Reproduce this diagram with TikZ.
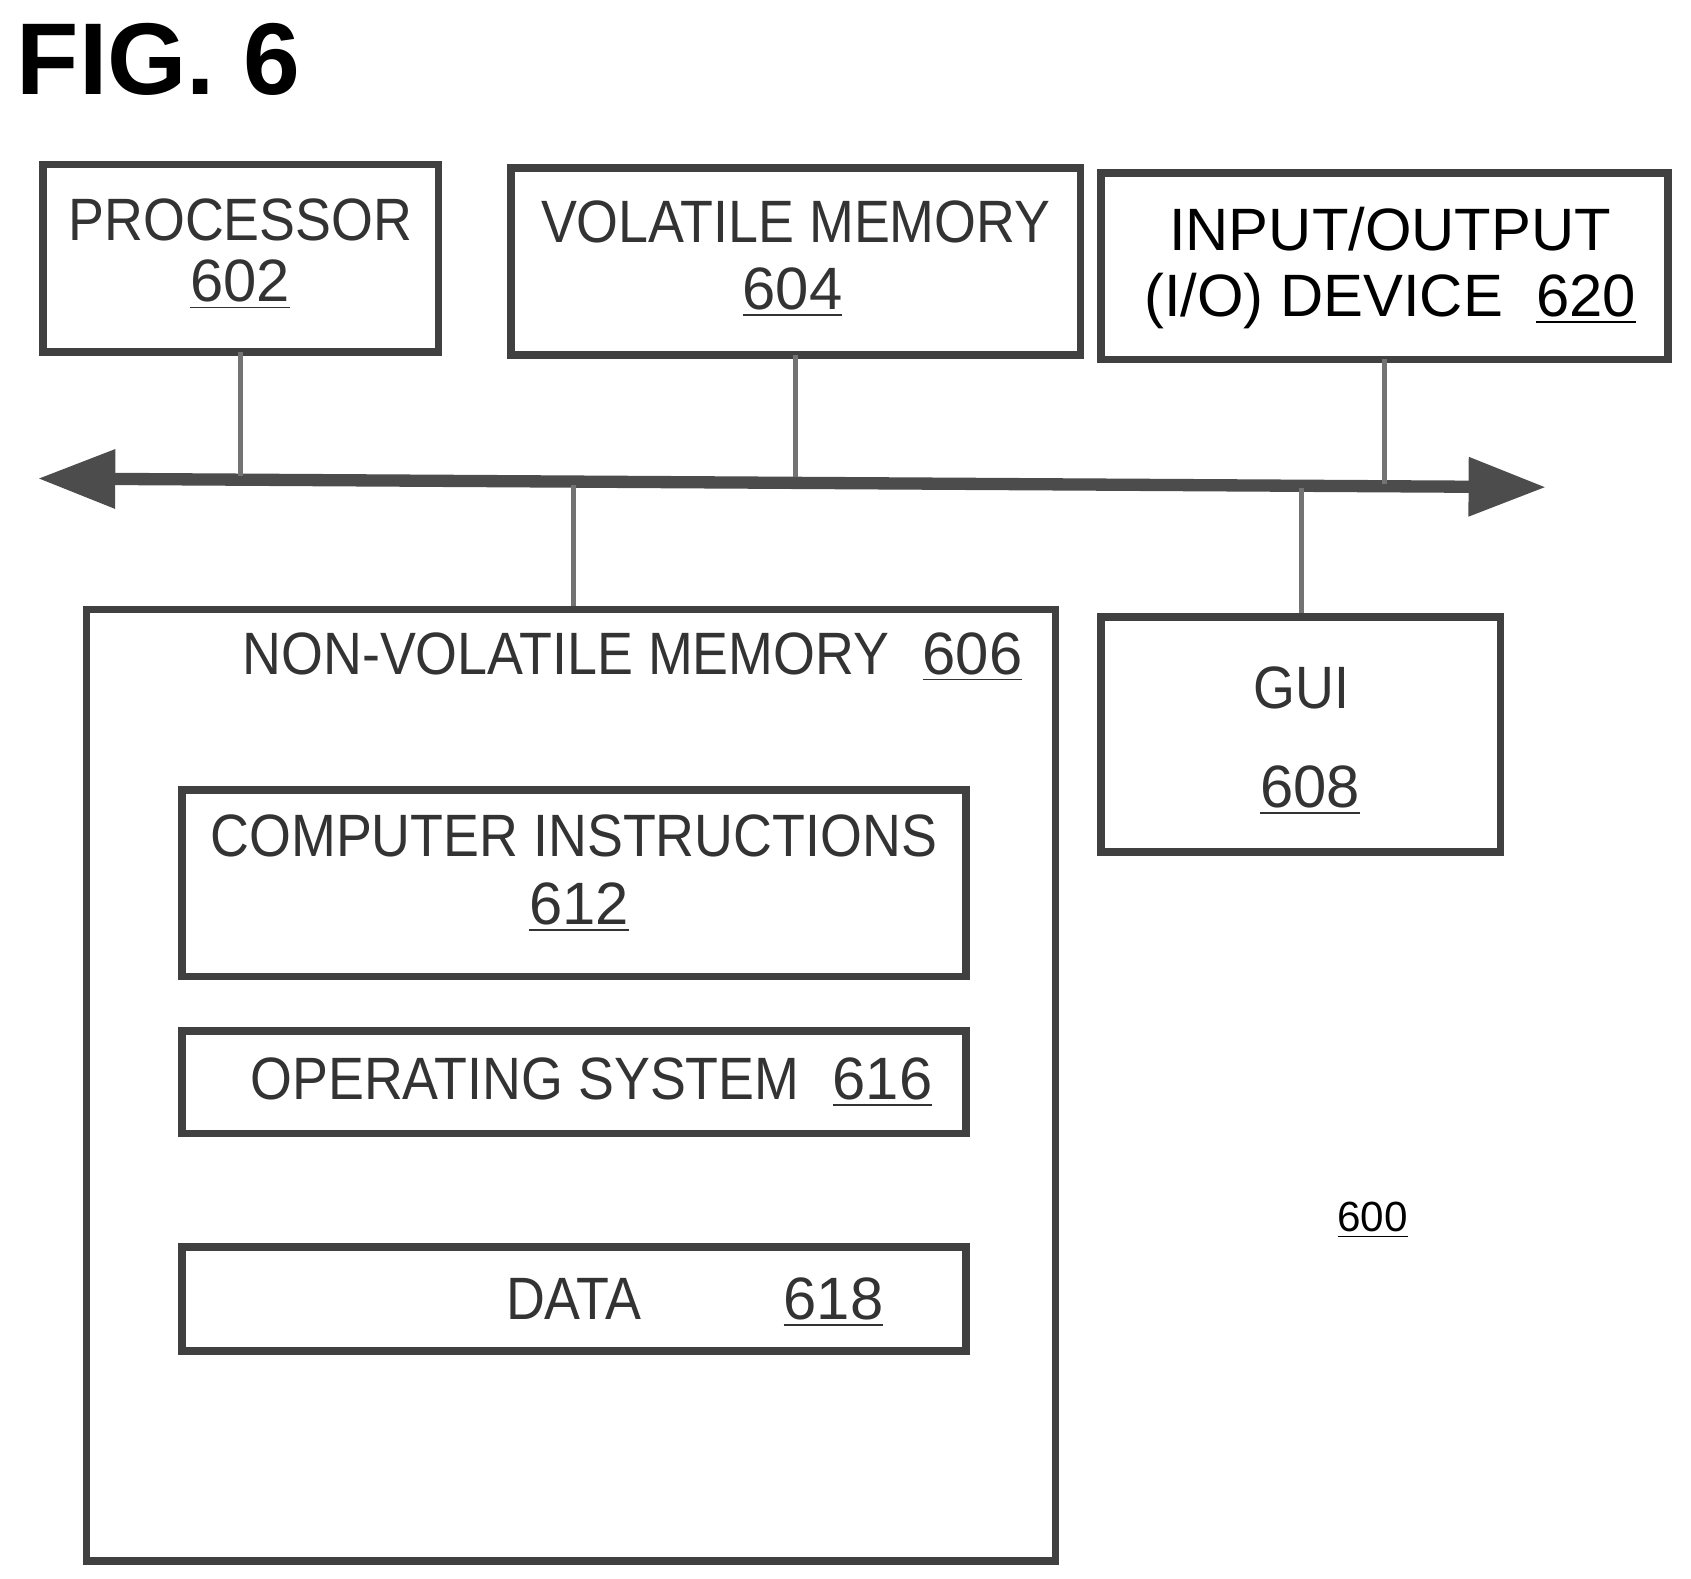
\documentclass[tikz,border=0pt]{standalone}
\usepackage{fontspec}
\setmainfont{Liberation Sans}
\usetikzlibrary{arrows.meta}
\newcommand{\nrw}[1]{\scalebox{0.9}[1]{#1}}
\begin{document}
\begin{tikzpicture}[x=0.010826cm,y=-0.010826cm,
  box/.style={draw=black!75,line width=2.2pt},
  lab/.style={font=\fontsize{17}{20}\selectfont,text=black!80,inner sep=0},
  conn/.style={draw=black!55,line width=1.5pt}]
\useasboundingbox (0,0) rectangle (1562,1458);
\node[font=\fontsize{29}{32}\selectfont\bfseries,anchor=west,inner sep=0] (fig) at (15,55) {FIG. 6};
\draw[box] (40,152) rectangle (405,325); \coordinate (p) at (222,325);
\node[lab] (t1) at (222,203) {\nrw{PROCESSOR}};
\node[lab] (n1) at (222,263) {\underline{602}};
\draw[box] (472,155) rectangle (998,328); \coordinate (v) at (735,328);
\node[lab] (t2) at (735,205) {\nrw{VOLATILE MEMORY}};
\node[lab] (n2) at (732,270) {\underline{604}};
\draw[box] (1017,160) rectangle (1541,332); \coordinate (io) at (1279,332);
\node[lab,text=black] (t3) at (1284,212) {INPUT/OUTPUT};
\node[lab,text=black] (t3b) at (1284,278) {(I/O) DEVICE\ \ \underline{620}};
\coordinate (bl) at (35,442); \coordinate (br) at (1428,450);
\draw[draw=black!70,line width=3.5pt,{Triangle[length=22pt,width=16pt]}-{Triangle[length=22pt,width=16pt]}] (bl) -- (br);
\coordinate (b1) at (222,440); \coordinate (b2) at (735,441); \coordinate (b3) at (1279,447);
\coordinate (b4) at (530,448); \coordinate (b5) at (1202,451);
\draw[conn] (p) -- (b1); \draw[conn] (v) -- (b2); \draw[conn] (io) -- (b3);
\coordinate (nv) at (530,563); \coordinate (g) at (1202,570);
\draw[conn] (b4) -- (nv); \draw[conn] (b5) -- (g);
\draw[box] (80,563) rectangle (975,1442);
\node[lab,anchor=east] (t4) at (945,607) {\nrw{NON-VOLATILE MEMORY}\ \ \underline{606}};
\draw[box] (1017,570) rectangle (1386,787);
\node[lab] (t5) at (1202,635) {\nrw{GUI}};
\node[lab] (n5) at (1210,730) {\underline{608}};
\draw[box] (168,730) rectangle (892,902);
\node[lab] (t6) at (530,772) {\nrw{COMPUTER INSTRUCTIONS}};
\node[lab] (n6) at (535,838) {\underline{612}};
\draw[box] (168,952) rectangle (892,1047);
\node[lab,anchor=east] (t7) at (862,1000) {\nrw{OPERATING SYSTEM}\ \ \underline{616}};
\draw[box] (168,1152) rectangle (892,1248);
\node[lab] (t8) at (530,1200) {\nrw{DATA}};
\node[lab] (n8) at (770,1203) {\underline{618}};
\node[font=\fontsize{12}{14}\selectfont,inner sep=0] (n600) at (1268,1127) {\underline{600}};
\end{tikzpicture}
\end{document}
